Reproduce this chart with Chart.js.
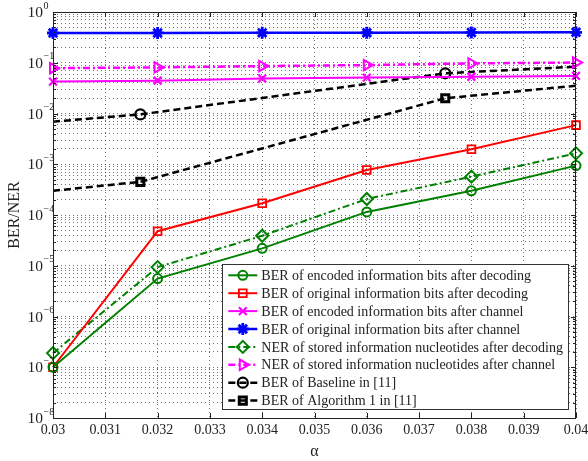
<!DOCTYPE html>
<html>
<head>
<meta charset="utf-8">
<script src="https://cdn.jsdelivr.net/npm/chart.js@4.4.1/dist/chart.umd.min.js"></script>
<style>
  html, body { margin: 0; padding: 0; background: #fff; }
  canvas { display: block; }
</style>
</head>
<body>
<canvas id="ber_chart" width="588" height="461"></canvas>
<script>
// values
const alphaValues = [0.03, 0.032, 0.034, 0.036, 0.038, 0.04];
const berEncodedDecoding = [1.0e-7, 5.6e-6, 2.2e-5, 1.15e-4, 3.0e-4, 9.4e-4];
const berOriginalDecoding = [1.0e-7, 4.8e-5, 1.7e-4, 7.7e-4, 1.97e-3, 5.9e-3];
const berEncodedChannel = [0.0425, 0.0443, 0.049, 0.051, 0.053, 0.055];
const berOriginalChannel = [0.386, 0.387, 0.388, 0.39, 0.395, 0.398];
const nerStoredDecoding = [1.9e-7, 9.4e-6, 3.9e-5, 2.07e-4, 5.7e-4, 1.64e-3];
const nerStoredChannel = [0.078, 0.081, 0.086, 0.09, 0.097, 0.101];

const refAlpha = [0.03, 0.03167, 0.0375, 0.04];
const berBaseline = [6.9e-3, 9.6e-3, 0.062, 0.0836];
const berAlgorithm1 = [3.0e-4, 4.5e-4, 0.02, 0.0353];

const xTickLabels = ["0.03", "0.031", "0.032", "0.033", "0.034", "0.035",
  "0.036", "0.037", "0.038", "0.039", "0.04"];
const yExponents = [-8, -7, -6, -5, -4, -3, -2, -1, 0];

const seriesLabels = [
  "BER of encoded information bits after decoding",
  "BER of original information bits after decoding",
  "BER of encoded information bits after channel",
  "BER of original information bits after channel",
  "NER of stored information nucleotides after decoding",
  "NER of stored information nucleotides after channel",
  "BER of Baseline in [11]",
  "BER of Algorithm 1 in [11]",
];

const SERIF = "'Liberation Serif', 'Times New Roman', serif";

function toPoints(xs, ys) {
  return xs.map((x, i) => ({ x: x, y: ys[i] }));
}

function makeSeries(label, xs, ys, style) {
  return Object.assign({
    label: label,
    data: toPoints(xs, ys),
    showLine: true,
    fill: false,
    clip: false,
    backgroundColor: "rgba(0,0,0,0)",
    pointBackgroundColor: "rgba(0,0,0,0)",
    tension: 0,
  }, style);
}

const datasets = [
  makeSeries(seriesLabels[0], alphaValues, berEncodedDecoding, {
    borderColor: "#008000", pointBorderColor: "#008000", borderWidth: 2,
    pointStyle: "circle", pointRadius: 4.5, pointBorderWidth: 2,
  }),
  makeSeries(seriesLabels[1], alphaValues, berOriginalDecoding, {
    borderColor: "#ff0000", pointBorderColor: "#ff0000", borderWidth: 2,
    pointStyle: "rect", pointRadius: 5.5, pointBorderWidth: 1.8,
  }),
  makeSeries(seriesLabels[2], alphaValues, berEncodedChannel, {
    borderColor: "#ff00ff", pointBorderColor: "#ff00ff", borderWidth: 2,
    pointStyle: "crossRot", pointRadius: 5.5, pointBorderWidth: 2.2,
  }),
  makeSeries(seriesLabels[3], alphaValues, berOriginalChannel, {
    borderColor: "#0000ff", pointBorderColor: "#0000ff", borderWidth: 2.5,
    pointStyle: "star", pointRadius: 6, pointBorderWidth: 2.8,
  }),
  makeSeries(seriesLabels[4], alphaValues, nerStoredDecoding, {
    borderColor: "#008000", pointBorderColor: "#008000", borderWidth: 2,
    borderDash: [7, 3, 2, 3],
    pointStyle: "rectRot", pointRadius: 6, pointBorderWidth: 2,
  }),
  makeSeries(seriesLabels[5], alphaValues, nerStoredChannel, {
    borderColor: "#ff00ff", pointBorderColor: "#ff00ff", borderWidth: 2.5,
    borderDash: [7, 3, 2, 3],
    pointStyle: "triangle", pointRotation: 90, pointRadius: 6, pointBorderWidth: 2,
  }),
  makeSeries(seriesLabels[6], refAlpha, berBaseline, {
    borderColor: "#000000", pointBorderColor: "#000000", borderWidth: 2.5,
    borderDash: [7, 4],
    pointStyle: "circle", pointRadius: [0, 5, 5, 0], pointBorderWidth: 2.2,
  }),
  makeSeries(seriesLabels[7], refAlpha, berAlgorithm1, {
    borderColor: "#000000", pointBorderColor: "#000000", borderWidth: 2.5,
    borderDash: [7, 4],
    pointStyle: "rect", pointRadius: [0, 5, 5, 0], pointBorderWidth: 3,
  }),
];

// MATLAB style frame, inward ticks, superscript tick labels and boxed legend
const matlabDecor = {
  id: "matlabDecor",
  afterDraw(chart) {
    const ctx = chart.ctx;
    const area = chart.chartArea;
    const xs = chart.scales.x;
    const ys = chart.scales.y;
    ctx.save();

    // frame
    ctx.strokeStyle = "#222";
    ctx.lineWidth = 1;
    ctx.setLineDash([]);
    ctx.strokeRect(area.left + 0.5, area.top + 0.5,
      area.right - area.left - 1, area.bottom - area.top);

    // x ticks
    ctx.beginPath();
    for (let i = 0; i < xTickLabels.length; i++) {
      const px = Math.round(xs.getPixelForValue(parseFloat(xTickLabels[i]))) + 0.5;
      ctx.moveTo(px, area.bottom); ctx.lineTo(px, area.bottom - 5);
      ctx.moveTo(px, area.top); ctx.lineTo(px, area.top + 5);
    }
    // y ticks
    for (let e = yExponents[0]; e < yExponents[yExponents.length - 1]; e++) {
      for (let k = 1; k < 10; k++) {
        const py = Math.round(ys.getPixelForValue(k * Math.pow(10, e))) + 0.5;
        const len = k === 1 ? 5 : 3;
        ctx.moveTo(area.left, py); ctx.lineTo(area.left + len, py);
        ctx.moveTo(area.right, py); ctx.lineTo(area.right - len, py);
      }
    }
    ctx.stroke();

    // y tick labels 10^e
    ctx.fillStyle = "#222";
    yExponents.forEach(function (e) {
      const py = ys.getPixelForValue(Math.pow(10, e));
      ctx.font = "15.5px " + SERIF;
      ctx.textAlign = "right";
      ctx.textBaseline = "middle";
      ctx.fillText("10", area.left - 10, py + 1);
      ctx.font = "10px " + SERIF;
      ctx.textAlign = "left";
      ctx.fillText(e === 0 ? "0" : "\u2212" + Math.abs(e), area.left - 9.5, py - 6);
    });

    // legend
    ctx.font = "14px " + SERIF;
    let maxW = 0;
    chart.data.datasets.forEach(function (ds) {
      maxW = Math.max(maxW, ctx.measureText(ds.label).width);
    });
    const rowH = 17.9;
    const boxW = 39 + maxW + 5;
    const boxH = rowH * chart.data.datasets.length + 2;
    const boxR = area.right - 8;
    const boxB = area.bottom - 9;
    const boxL = boxR - boxW;
    const boxT = boxB - boxH;
    ctx.fillStyle = "#fff";
    ctx.fillRect(boxL, boxT, boxW, boxH);
    ctx.strokeStyle = "#333";
    ctx.lineWidth = 1;
    ctx.strokeRect(Math.round(boxL) + 0.5, Math.round(boxT) + 0.5, Math.round(boxW), Math.round(boxH));

    chart.data.datasets.forEach(function (ds, i) {
      const cy = boxT + 11.5 + i * rowH;
      ctx.strokeStyle = ds.borderColor;
      ctx.lineWidth = ds.borderWidth;
      ctx.setLineDash(ds.borderDash || []);
      ctx.beginPath();
      ctx.moveTo(boxL + 6, cy);
      ctx.lineTo(boxL + 35, cy);
      ctx.stroke();
      ctx.setLineDash([]);
      const r = Array.isArray(ds.pointRadius) ? Math.max.apply(null, ds.pointRadius) : ds.pointRadius;
      ctx.fillStyle = ds.pointBackgroundColor;
      ctx.lineWidth = ds.pointBorderWidth;
      Chart.helpers.drawPoint(ctx, {
        pointStyle: ds.pointStyle,
        rotation: ds.pointRotation || 0,
        radius: r,
        borderWidth: ds.pointBorderWidth,
      }, boxL + 20.5, cy);
      ctx.fillStyle = "#222";
      ctx.textAlign = "left";
      ctx.textBaseline = "middle";
      ctx.fillText(ds.label, boxL + 39, cy + 1);
    });

    ctx.restore();
  },
};

function init() {
  const ctx = document.getElementById("ber_chart");
  new Chart(ctx, {
    type: "scatter",
    data: { datasets: datasets },
    plugins: [matlabDecor],
    options: {
      responsive: false,
      animation: false,
      devicePixelRatio: 1,
      layout: { padding: { top: 12, right: 12, bottom: 0, left: 0 } },
      plugins: { legend: { display: false }, tooltip: { enabled: false } },
      scales: {
        x: {
          type: "linear",
          min: 0.03,
          max: 0.04,
          afterBuildTicks(scale) {
            scale.ticks = xTickLabels.map((t) => ({ value: parseFloat(t) }));
          },
          afterFit(scale) {
            scale.height = 43;
            scale.paddingLeft = 0;
            scale.paddingRight = 0;
          },
          ticks: {
            color: "#222",
            padding: 4,
            maxRotation: 0,
            autoSkip: false,
            font: { family: SERIF, size: 14 },
            callback: (value, index) => xTickLabels[index],
          },
          grid: { color: "rgba(0,0,0,0.55)", lineWidth: 1, drawTicks: false },
          border: { display: false, dash: [1, 3] },
          title: {
            display: true,
            text: "\u03b1",
            color: "#222",
            font: { family: SERIF, size: 16 },
            padding: { top: 0, bottom: 0 },
          },
        },
        y: {
          type: "logarithmic",
          min: 1e-8,
          max: 1,
          afterBuildTicks(scale) {
            const ticks = [];
            for (let e = yExponents[0]; e < yExponents[yExponents.length - 1]; e++) {
              for (let k = 1; k < 10; k++) ticks.push({ value: k * Math.pow(10, e) });
            }
            ticks.push({ value: 1 });
            scale.ticks = ticks;
          },
          afterFit(scale) {
            scale.width = 53;
          },
          ticks: { display: false },
          grid: { color: "rgba(0,0,0,0.55)", lineWidth: 1, drawTicks: false },
          border: { display: false, dash: [1, 3] },
          title: {
            display: true,
            text: "BER/NER",
            color: "#222",
            font: { family: SERIF, size: 16 },
            padding: { top: 5, bottom: 0 },
          },
        },
      },
    },
  });
}

window.onload = init;
</script>
</body>
</html>
